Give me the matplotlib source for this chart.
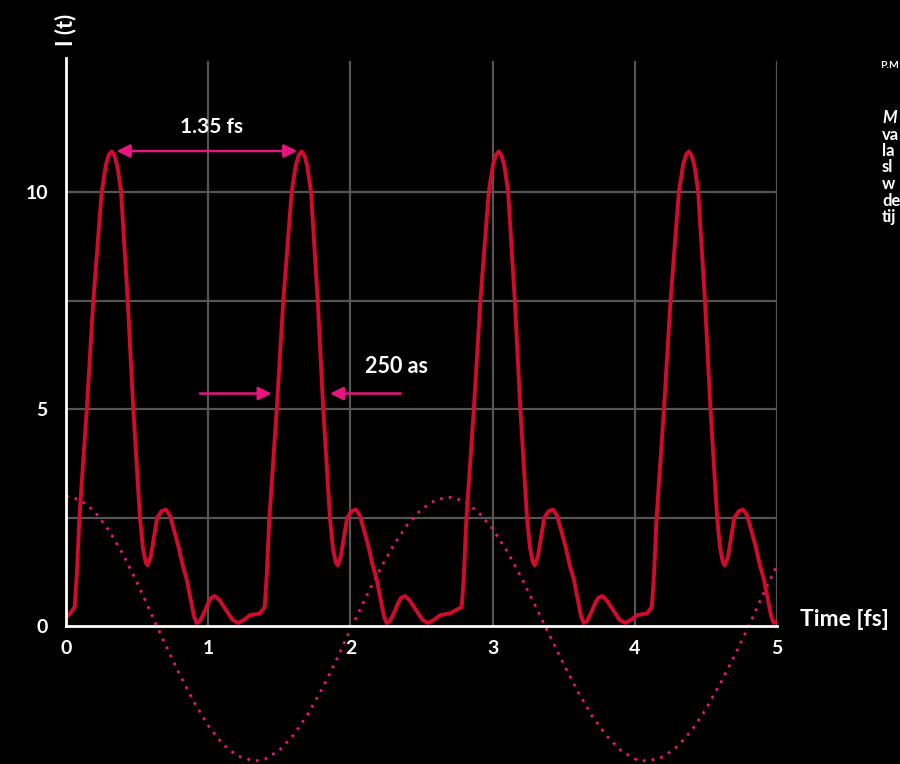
import numpy as np
import matplotlib
matplotlib.use("Agg")
from matplotlib import pyplot as plt

# pulse train: peak times [fs] and one pulse shape around a peak
peak_times = [0.321, 1.657, 3.043, 4.380]
pulse_dt = [-0.26, -0.245, -0.227, -0.175, -0.129, -0.07, -0.04, -0.02, 0.0,
            0.02, 0.04, 0.066, 0.113, 0.152, 0.199, 0.22, 0.24, 0.253, 0.275,
            0.29, 0.32, 0.35, 0.382, 0.41, 0.44, 0.469, 0.50, 0.528, 0.56,
            0.58, 0.598, 0.62, 0.649, 0.68, 0.70, 0.727, 0.76, 0.81, 0.85,
            0.891, 0.93, 0.973, 1.01, 1.043]
pulse_val = [0.45, 1.2, 2.5, 5.0, 7.5, 10.0, 10.63, 10.85, 10.93,
             10.84, 10.59, 10.0, 7.5, 5.0, 2.5, 1.8, 1.47, 1.41, 1.6,
             1.9, 2.5, 2.65, 2.69, 2.55, 2.2, 1.85, 1.4, 1.08, 0.55,
             0.22, 0.08, 0.12, 0.31, 0.55, 0.66, 0.70, 0.6, 0.35, 0.15,
             0.08, 0.15, 0.26, 0.28, 0.30]
start_t = [0.0, 0.03]
start_v = [0.22, 0.30]

# dotted driving field
field_t = [0.0, 0.1, 0.2, 0.3, 0.4, 0.5, 0.64, 0.7, 0.8, 0.9, 1.0, 1.1, 1.2,
           1.325, 1.4, 1.5, 1.6, 1.7, 1.8, 1.9, 2.01, 2.1, 2.2, 2.3, 2.4,
           2.5, 2.6, 2.69, 2.8, 2.9, 3.0, 3.1, 3.2, 3.3, 3.37, 3.5, 3.6,
           3.7, 3.8, 3.9, 4.0, 4.085, 4.2, 4.3, 4.4, 4.5, 4.6, 4.7, 4.8,
           4.9, 5.0]
field_v = [3.0, 2.91, 2.65, 2.22, 1.67, 1.01, 0.0, -0.43, -1.11, -1.74,
           -2.28, -2.70, -2.97, -3.1, -3.05, -2.85, -2.50, -2.02, -1.44,
           -0.78, 0.0, 0.61, 1.27, 1.85, 2.34, 2.70, 2.91, 2.98, 2.89,
           2.63, 2.25, 1.74, 1.14, 0.48, 0.0, -0.87, -1.50, -2.06, -2.51,
           -2.85, -3.05, -3.1, -3.00, -2.76, -2.39, -1.90, -1.32, -0.68,
           0.0, 0.72, 1.41]

x_ticks = [0, 1, 2, 3, 4, 5]
y_ticks = [0, 5, 10]
grid_y = [2.5, 5, 7.5, 10]
side_lines = ["M", "va", "la", "sl", "w", "de", "tij"]

# assemble the pulse train
t_all = list(start_t)
v_all = list(start_v)
for p in peak_times:
    for d, v in zip(pulse_dt, pulse_val):
        if p + d <= 5.0:
            t_all.append(p + d)
            v_all.append(v)

red = "#d20a2c"
pink = "#e6157f"
grey = "#555555"

plt.rcParams['font.family'] = ['Lato', 'DejaVu Sans']
fig = plt.figure(figsize=(9, 7.64), dpi=100)
fig.patch.set_facecolor("black")
ax = fig.add_axes([66 / 900, 0, 711 / 900, 706 / 764])
ax.set_facecolor("black")
ax.set_xlim(0, 5)
ax.set_ylim(-3.165, 13.08)

ax.hlines(grid_y, 0, 5, color=grey, lw=1.6, zorder=1)
ax.vlines(x_ticks[1:], 0, 13.0, color=grey, lw=1.6, zorder=1)

ax.plot(field_t, field_v, color=pink, lw=2.0, linestyle=(0, (1, 2.2)),
        dash_capstyle="butt", zorder=2)
ax.plot(t_all, v_all, color=red, lw=2.8, zorder=3, solid_joinstyle="round")

for s in ["top", "right"]:
    ax.spines[s].set_visible(False)
ax.spines["bottom"].set_position(("data", 0))
ax.spines["bottom"].set_bounds(0, 5)
ax.spines["left"].set_bounds(0, 13.08)
for s in ["bottom", "left"]:
    ax.spines[s].set_color("white")
    ax.spines[s].set_linewidth(2)
    ax.spines[s].set_zorder(4)

ax.set_xticks(x_ticks)
ax.set_xticklabels([str(x) for x in x_ticks])
ax.set_yticks(y_ticks)
ax.set_yticklabels([str(y) for y in y_ticks])
ax.tick_params(length=0, colors="white", labelsize=14)
ax.tick_params(axis="x", pad=10)
ax.tick_params(axis="y", pad=13)
for lab in ax.get_xticklabels() + ax.get_yticklabels():
    lab.set_fontweight("bold")

ax.text(5.16, 0.15, "Time [fs]", color="white", fontsize=16.5,
        fontweight="bold", ha="left", va="center", clip_on=False)
ax.text(0.0, 13.72, "I (t)", color="white", fontsize=16, fontweight="bold",
        rotation=90, ha="center", va="center", clip_on=False)

# 1.35 fs period arrow
ax.annotate("", xy=(0.356, 10.94), xytext=(1.626, 10.94),
            arrowprops=dict(arrowstyle="<|-|>", color=pink, lw=1.8,
                            mutation_scale=20, shrinkA=0, shrinkB=0))
ax.text(1.02, 11.5, "1.35 fs", color="white", fontsize=15,
        fontweight="bold", ha="center", va="center")

# 250 as width arrows
ax.annotate("", xy=(1.446, 5.36), xytext=(0.942, 5.36),
            arrowprops=dict(arrowstyle="-|>", color=pink, lw=1.8,
                            mutation_scale=20, shrinkA=0, shrinkB=0))
ax.annotate("", xy=(1.857, 5.36), xytext=(2.354, 5.36),
            arrowprops=dict(arrowstyle="-|>", color=pink, lw=1.8,
                            mutation_scale=20, shrinkA=0, shrinkB=0))
ax.text(2.10, 5.97, "250 as", color="white", fontsize=15.5,
        fontweight="bold", ha="left", va="center")

# cut-off caption at the right edge
fig.text(880 / 900, 1 - 66 / 764, "P.M", color="white", fontsize=7.5,
         fontweight="bold", ha="left", va="center")
for i, s in enumerate(side_lines):
    fig.text(882 / 900, 1 - (118 + i * 16.5) / 764, s, color="white",
             fontsize=12, fontweight="bold",
             fontstyle="italic" if i == 0 else "normal",
             ha="left", va="center")

fig.savefig("out.png", dpi=100, facecolor="black")
